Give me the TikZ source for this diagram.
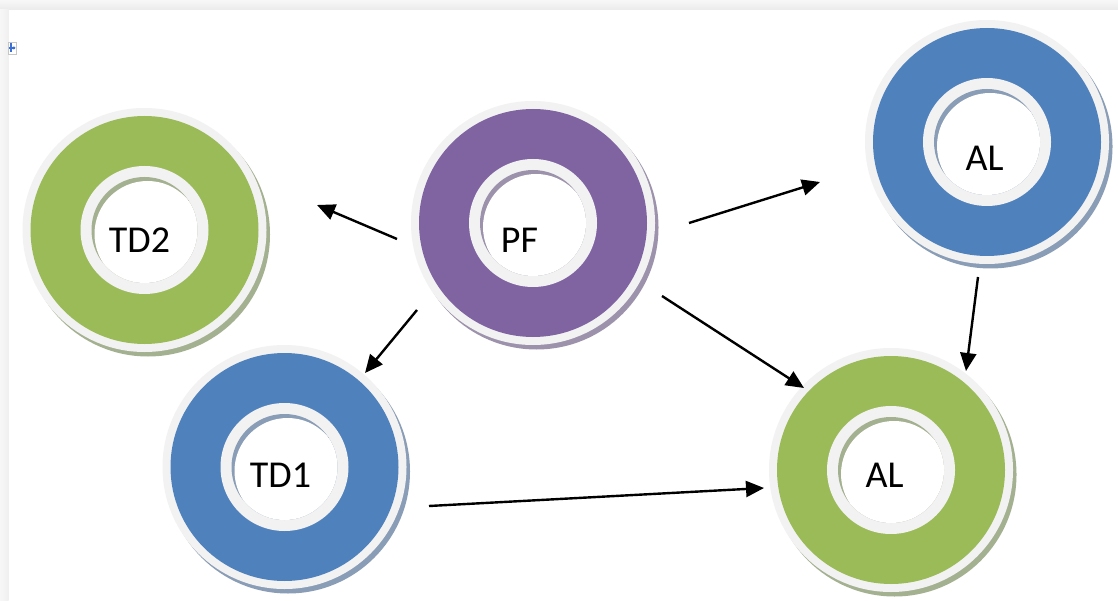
\documentclass[tikz,border=0pt]{standalone}
\usepackage{fontspec}
\setmainfont{Carlito}
\usetikzlibrary{arrows.meta}
\definecolor{ringlight}{HTML}{F2F2F2}
\definecolor{cblue}{HTML}{4F81BD}
\definecolor{cgreen}{HTML}{9BBB59}
\definecolor{cpurple}{HTML}{8064A2}
\definecolor{sblue}{HTML}{8A9DB6}
\definecolor{sgreen}{HTML}{A4B190}
\definecolor{spurple}{HTML}{9D92AC}
\definecolor{iconblue}{HTML}{3A6FD8}
\tikzset{
  arr/.style={line width=2.4pt, -{Triangle[length=18pt,width=16pt]}},
  lbl/.style={inner sep=0pt, font=\fontsize{38}{42}\selectfont},
  hub/.style={circle, minimum size=244pt, inner sep=0pt}
}
\newcommand\donut[4]{%
  \begin{scope}[shift={(#1,#2)}]
    \fill[#4] (3.5,4.5) circle[radius=122];
    \fill[ringlight] (0,0) circle[radius=122];
    \fill[#3] (0,0) circle[radius=114];
    \fill[ringlight] (0,0) circle[radius=64];
    \fill[#4] (0,0) circle[radius=53];
    \begin{scope}
      \clip (0,0) circle[radius=53];
      \fill[white] (3,4) circle[radius=53];
    \end{scope}
  \end{scope}}
\begin{document}
\begin{tikzpicture}[x=1pt,y=-1pt]
  \useasboundingbox (0,0) rectangle (1118,601);
  \fill[white] (0,0) rectangle (1118,601);
  % page frame
  \shade[top color=gray!6, bottom color=gray!16] (0,0) rectangle (1118,10);
  \shade[left color=gray!6, right color=gray!12] (0,10) rectangle (8.5,601);
  % icon
  \fill[white, draw=gray!45, line width=0.6pt] (8.5,42) rectangle (16.5,54);
  \draw[iconblue, line width=1.2pt] (11,43.5) -- (11,52.5);
  \draw[iconblue, line width=1.2pt] (9,48) -- (15,48);
  \fill[iconblue] (15.5,48) -- (13.5,46) -- (13.5,50) -- cycle;
  % rings
  \donut{144.5}{230}{cgreen}{sgreen}
  \donut{533}{223}{cpurple}{spurple}
  \donut{987}{142}{cblue}{sblue}
  \donut{284.5}{467}{cblue}{sblue}
  \donut{891}{470}{cgreen}{sgreen}
  \node[hub] (td2) at (144.5,230) {};
  \node[hub] (pf) at (533,223) {};
  \node[hub] (alt) at (987,142) {};
  \node[hub] (td1) at (284.5,467) {};
  \node[hub] (alb) at (891,470) {};
  % labels
  \node[lbl] (td2l) at (139.5,240) {TD2};
  \node[lbl] (pfl) at (519.5,240) {PF};
  \node[lbl] (altl) at (984.5,158.5) {AL};
  \node[lbl] (td1l) at (280.5,475) {TD1};
  \node[lbl] (albl) at (884.5,475) {AL};
  % connector ends
  \coordinate (pf-td2-s) at (397,239);
  \coordinate (pf-td2-e) at (317,205);
  \coordinate (pf-td1-s) at (417,310);
  \coordinate (pf-td1-e) at (365,373);
  \coordinate (pf-alt-s) at (689,223);
  \coordinate (pf-alt-e) at (820,182);
  \coordinate (pf-alb-s) at (662,296);
  \coordinate (pf-alb-e) at (804,388);
  \coordinate (td1-alb-s) at (429,506);
  \coordinate (td1-alb-e) at (764,488);
  \coordinate (alt-alb-s) at (978,277);
  \coordinate (alt-alb-e) at (966,371);
  % connectors
  \draw[arr] (pf-td2-s) -- (pf-td2-e);
  \draw[arr] (pf-td1-s) -- (pf-td1-e);
  \draw[arr] (pf-alt-s) -- (pf-alt-e);
  \draw[arr] (pf-alb-s) -- (pf-alb-e);
  \draw[arr] (td1-alb-s) -- (td1-alb-e);
  \draw[arr] (alt-alb-s) -- (alt-alb-e);
\end{tikzpicture}
\end{document}
